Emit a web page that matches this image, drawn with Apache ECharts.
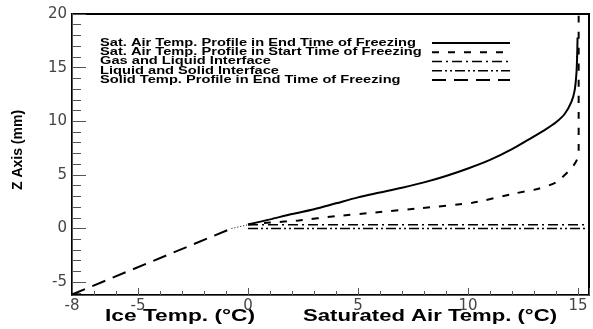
<!DOCTYPE html>
<html>
<head>
<meta charset="utf-8">
<script src="https://cdn.jsdelivr.net/npm/echarts@6/dist/echarts.min.js"></script>
<style>
html,body{margin:0;padding:0;background:#fff;}
#chart{width:593px;height:329px;}
</style>
</head>
<body>
<div id="chart"></div>
<script>
// ---- data ----
const seriesNames = [
  'Sat. Air Temp. Profile in End Time of Freezing',
  'Sat. Air Temp. Profile in Start Time of Freezing',
  'Gas and Liquid Interface',
  'Liquid and Solid Interface',
  'Solid Temp. Profile in End Time of Freezing'
];
// [temperature (°C), Z (mm)]
const airEnd = [
  [0, 0.37], [1, 0.85], [2, 1.35], [3, 1.8], [4, 2.35], [5, 2.9], [6, 3.35], [7, 3.8],
  [8, 4.3], [9, 4.9], [10, 5.6], [11, 6.4], [12, 7.4], [13, 8.6], [13.5, 9.2], [14, 9.9],
  [14.4, 10.7], [14.7, 11.8], [14.85, 12.9], [14.93, 14.5], [14.96, 16], [14.98, 17.8]
];
const airStart = [
  [0, 0.37], [1, 0.55], [2.3, 0.75], [4, 1.15], [5.8, 1.5], [7.9, 1.9], [10.2, 2.4],
  [12.2, 3.3], [13.2, 3.7], [14, 4.3], [14.7, 5.6], [14.95, 6.4], [15.03, 7.2], [15.03, 20]
];
const gasLiquid = [[0, 0.35], [15.5, 0.35]];
const liquidSolid = [[0, 0], [15.5, 0]];
const solidTemp = [[-8, -6.15], [-0.75, 0.0]];
const solidConnector = [[-0.75, 0.0], [0, 0.35]];

const xTitleIce = 'Ice Temp. (°C)';
const xTitleAir = 'Saturated Air Temp. (°C)';
const yTitle = 'Z Axis (mm)';

// ---- styles ----
const lineDashes = ['solid', [7, 9], [10, 4, 2, 4], [10, 3, 2, 3, 2, 3], [14, 8]];
const lineWidths = [2, 2, 1.5, 1.5, 2];

const measureCtx = document.createElement('canvas').getContext('2d');
function textWidth(text, font) { measureCtx.font = font; return measureCtx.measureText(text).width; }

const chart = echarts.init(document.getElementById('chart'), null, {renderer: 'canvas'});
const X_MIN = -8, X_MAX = 15.5, Y_MIN = -6.2, Y_MAX = 20;
const tickFont = {fontFamily: 'DejaVu Sans', fontSize: 15, color: '#444'};

// legend built as graphic (text left-aligned, line samples in one column)
const legendFont = 'bold 10.5px "Liberation Sans"';
const legendScale = 316 / textWidth(seriesNames[0], legendFont);
const legendY = [43, 52.3, 61.5, 70.7, 80];
const legendGraphics = [];
seriesNames.forEach(function (name, i) {
  legendGraphics.push({
    type: 'text', x: 100, y: legendY[i], scaleX: legendScale, silent: true,
    style: {text: name, font: legendFont, fill: '#000', align: 'left', verticalAlign: 'middle'}
  });
  legendGraphics.push({
    type: 'line', silent: true,
    shape: {x1: 432, y1: legendY[i], x2: 510, y2: legendY[i]},
    style: {stroke: '#000', lineWidth: lineWidths[i], lineDash: lineDashes[i] === 'solid' ? null : lineDashes[i]}
  });
});
const titleFont = 'bold 16px "Liberation Sans"';
const iceScale = 150 / textWidth(xTitleIce, titleFont);
const airScale = 254 / textWidth(xTitleAir, titleFont);

const option = {
  animation: false,
  grid: {left: 72, top: 14, right: 4, bottom: 34, show: true, borderColor: '#000', borderWidth: 2},
  xAxis: [
    {
      type: 'value', min: X_MIN, max: X_MAX,
      axisLine: {show: true, onZero: false},
      axisTick: {show: true, inside: true, length: 7},
      minorTick: {show: true, length: 4},
      axisLabel: {show: true, margin: 4, showMaxLabel: false, ...tickFont},
      splitLine: {show: false}
    },
    {
      type: 'value', position: 'bottom', min: X_MIN, max: X_MAX,
      axisLine: {show: true, onZero: false},
      axisTick: {show: true, inside: true, length: 7},
      minorTick: {show: true, length: 4},
      axisLabel: {color: 'rgba(0,0,0,0)'},
      splitLine: {show: false}
    }
  ],
  yAxis: [
    {
      type: 'value', min: Y_MIN, max: Y_MAX,
      name: yTitle, nameLocation: 'middle', nameGap: 47, nameRotate: 90,
      nameTextStyle: {fontFamily: 'Liberation Sans', fontWeight: 'bold', fontSize: 14, color: '#000', padding: [0, 0, 0, 9]},
      axisLine: {show: true, onZero: false},
      axisTick: {show: true, inside: true, length: 14},
      minorTick: {show: true, length: 9},
      axisLabel: {show: true, margin: 5, showMinLabel: false, ...tickFont},
      splitLine: {show: false}
    },
    {
      type: 'value', position: 'left', min: Y_MIN, max: Y_MAX,
      axisLine: {show: true, onZero: false},
      axisTick: {show: true, inside: true, length: 14},
      minorTick: {show: true, length: 9},
      axisLabel: {color: 'rgba(0,0,0,0)'},
      splitLine: {show: false}
    }
  ],
  graphic: legendGraphics.concat([
    {type: 'text', x: 180, y: 317, scaleX: iceScale, silent: true,
     style: {text: xTitleIce, font: titleFont, fill: '#000', align: 'center', verticalAlign: 'middle'}},
    {type: 'text', x: 430, y: 317, scaleX: airScale, silent: true,
     style: {text: xTitleAir, font: titleFont, fill: '#000', align: 'center', verticalAlign: 'middle'}}
  ]),
  series: [
    {name: seriesNames[0], type: 'line', data: airEnd, symbol: 'none', smooth: 0.3,
     lineStyle: {color: '#000', width: lineWidths[0], type: lineDashes[0]}},
    {name: seriesNames[1], type: 'line', data: airStart, symbol: 'none', smooth: 0.2,
     lineStyle: {color: '#000', width: lineWidths[1], type: lineDashes[1]}},
    {name: seriesNames[2], type: 'line', data: gasLiquid, symbol: 'none',
     lineStyle: {color: '#000', width: lineWidths[2], type: lineDashes[2]}},
    {name: seriesNames[3], type: 'line', data: liquidSolid, symbol: 'none',
     lineStyle: {color: '#000', width: lineWidths[3], type: lineDashes[3]}},
    {name: seriesNames[4], type: 'line', data: solidTemp, symbol: 'none',
     lineStyle: {color: '#000', width: lineWidths[4], type: lineDashes[4]}},
    {name: 'connector', type: 'line', data: solidConnector, symbol: 'none',
     lineStyle: {color: '#000', width: 1, type: [1, 2]}}
  ]
};
chart.setOption(option);
</script>
</body>
</html>
